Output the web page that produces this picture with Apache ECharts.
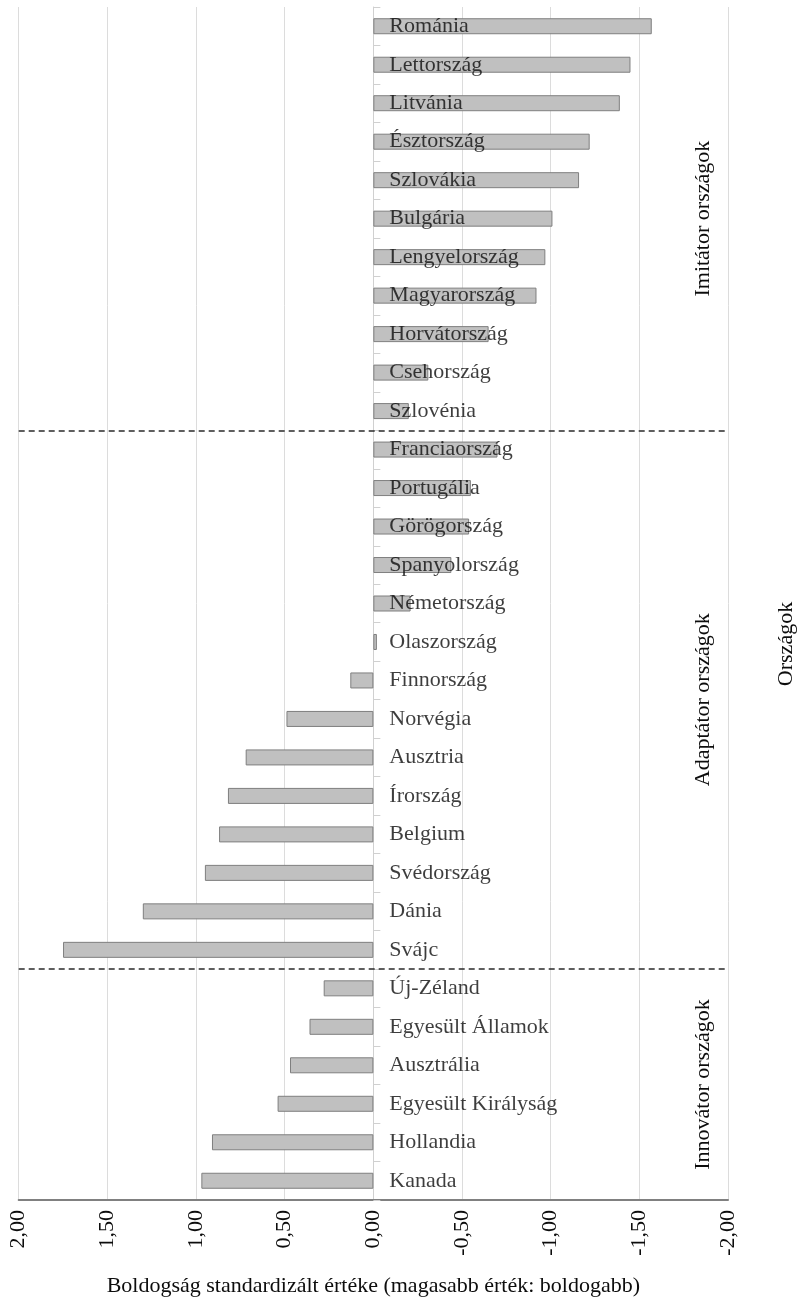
<!DOCTYPE html>
<html>
<head>
<meta charset="utf-8">
<script src="https://cdn.jsdelivr.net/npm/echarts@6/dist/echarts.min.js"></script>
<style>
  html, body { margin: 0; padding: 0; background: #ffffff; }
  #chart { width: 797px; height: 1307px; }
</style>
</head>
<body>
<div id="chart"></div>
<script>
// Countries, top to bottom
const countries = [
  'Románia', 'Lettország', 'Litvánia', 'Észtország', 'Szlovákia', 'Bulgária',
  'Lengyelország', 'Magyarország', 'Horvátország', 'Csehország', 'Szlovénia',
  'Franciaország', 'Portugália', 'Görögország', 'Spanyolország', 'Németország',
  'Olaszország', 'Finnország', 'Norvégia', 'Ausztria', 'Írország', 'Belgium',
  'Svédország', 'Dánia', 'Svájc',
  'Új-Zéland', 'Egyesült Államok', 'Ausztrália', 'Egyesült Királyság',
  'Hollandia', 'Kanada'
];

// Standardised happiness value per country
const happiness = [
  -1.57, -1.45, -1.39, -1.22, -1.16, -1.01,
  -0.97, -0.92, -0.65, -0.31, -0.20,
  -0.70, -0.55, -0.54, -0.44, -0.21,
  -0.02, 0.13, 0.49, 0.72, 0.82, 0.87,
  0.95, 1.30, 1.75,
  0.28, 0.36, 0.47, 0.54,
  0.91, 0.97
];

// Country groups: name, first and last row index
const groupNames = ['Imitátor országok', 'Adaptátor országok', 'Innovátor országok'];
const groupFirst = [0, 11, 25];
const groupLast = [10, 24, 30];

// Value axis ticks
const axisMin = -2;
const axisMax = 2;
const axisStep = 0.5;

const serif = '"Liberation Serif", "Times New Roman", serif';
const textColor = '#0d0d0d';

const chart = echarts.init(document.getElementById('chart'), null, { renderer: 'canvas' });

// Separators sit halfway between the last row of one group and the first of the next
const separators = groupLast.slice(0, -1).map(function (last) {
  return [
    { coord: [axisMax, last + 0.5] },
    { coord: [axisMin, last + 0.5] }
  ];
});

// Country names are anchored at the zero line of the value axis
const nameAnchors = countries.map(function (c) { return [0, c]; });

const option = {
  backgroundColor: '#ffffff',
  animation: false,
  grid: {
    left: 18.7,
    right: 69,
    top: 7,
    bottom: 107,
    outerBoundsMode: 'none'
  },
  xAxis: {
    type: 'value',
    inverse: true,
    min: axisMin,
    max: axisMax,
    interval: axisStep,
    name: 'Boldogság standardizált értéke (magasabb érték: boldogabb)',
    nameLocation: 'middle',
    nameGap: 75,
    nameTextStyle: { fontFamily: serif, fontSize: 22, color: textColor },
    axisLine: { show: true, onZero: false, lineStyle: { color: '#808080', width: 2 } },
    axisTick: { show: false },
    axisLabel: {
      rotate: 90,
      margin: 10,
      fontFamily: serif,
      fontSize: 22,
      color: textColor,
      formatter: function (v) { return v.toFixed(2).replace('.', ','); }
    },
    splitLine: { show: true, lineStyle: { color: '#dcdcdc', width: 1 } }
  },
  yAxis: [
    {
      type: 'category',
      data: countries,
      inverse: true,
      position: 'right',
      axisLine: { show: true, onZero: true, lineStyle: { color: '#d0d0d0', width: 1 } },
      axisTick: { show: true, length: 7, lineStyle: { color: '#d0d0d0' } },
      axisLabel: { show: false },
      splitLine: { show: false }
    },
    {
      type: 'value',
      show: false,
      inverse: true,
      min: -0.5,
      max: countries.length - 0.5,
      axisLine: { onZero: false },
      splitLine: { show: false }
    }
  ],
  series: [
    {
      type: 'bar',
      xAxisIndex: 0,
      yAxisIndex: 0,
      data: happiness,
      barWidth: 16,
      itemStyle: { color: '#c0c0c0', borderColor: '#7f7f7f', borderWidth: 1 },
      z: 2
    },
    {
      type: 'scatter',
      xAxisIndex: 0,
      yAxisIndex: 0,
      data: nameAnchors,
      symbolSize: 0,
      silent: true,
      z: 5,
      label: {
        show: true,
        position: 'right',
        distance: 16,
        fontFamily: serif,
        fontSize: 22,
        color: textColor,
        formatter: function (p) { return p.value[1]; }
      }
    },
    {
      type: 'line',
      xAxisIndex: 0,
      yAxisIndex: 1,
      data: [],
      silent: true,
      markLine: {
        silent: true,
        symbol: ['none', 'none'],
        label: { show: false },
        lineStyle: { color: '#2a2a2a', type: [6, 4], width: 1.6 },
        data: separators
      }
    }
  ]
};

chart.setOption(option);

// Rotated group titles centred on each group's rows, plus the overall category caption
const groupTexts = groupNames.map(function (name, i) {
  const mid = (groupFirst[i] + groupLast[i]) / 2;
  const y = chart.convertToPixel({ yAxisIndex: 1 }, mid);
  return {
    type: 'text',
    x: 703,
    y: y,
    rotation: Math.PI / 2,
    style: {
      text: name,
      font: '22px ' + serif,
      fill: textColor,
      align: 'center',
      verticalAlign: 'middle'
    }
  };
});

groupTexts.push({
  type: 'text',
  x: 786,
  y: 644,
  rotation: Math.PI / 2,
  style: {
    text: 'Országok',
    font: '22px ' + serif,
    fill: textColor,
    align: 'center',
    verticalAlign: 'middle'
  }
});

chart.setOption({ graphic: groupTexts });
</script>
</body>
</html>
